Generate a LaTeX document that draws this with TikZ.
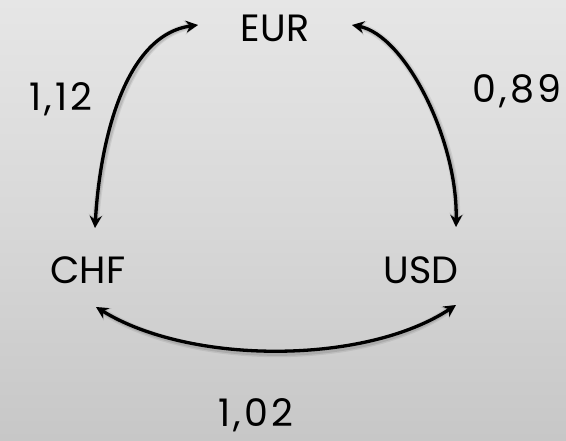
\documentclass[tikz,border=0pt]{standalone}
\usepackage{fontspec}
\setmainfont{Poppins}
\newfontfamily\ratefont{Poppins}[LetterSpace=8]
\usetikzlibrary{arrows.meta}
\definecolor{bgtop}{RGB}{230,230,230}
\definecolor{bgmid}{RGB}{216,216,216}
\definecolor{bgbot}{RGB}{199,199,199}
\tikzset{
  cur/.style={font=\fontsize{38}{40}\selectfont, anchor=base, inner sep=0pt},
  rate/.style={font=\ratefont\fontsize{38}{40}\selectfont, anchor=base, inner sep=0pt},
  link/.style={line width=3.3pt, {Stealth[length=12pt,width=12pt]}-{Stealth[length=12pt,width=12pt]}},
  shadowa/.style={line width=7pt, draw=black, opacity=0.07, {Stealth[length=14pt,width=15pt]}-{Stealth[length=14pt,width=15pt]}},
  shadowb/.style={line width=4.5pt, draw=black, opacity=0.10, {Stealth[length=13pt,width=13pt]}-{Stealth[length=13pt,width=13pt]}}
}
\begin{document}
\begin{tikzpicture}[x=1pt,y=1pt]
\useasboundingbox (0,0) rectangle (566,440);
\shade[top color=bgtop, bottom color=bgbot, middle color=bgmid] (0,0) rectangle (566,440);

\node[cur] (eur) at (275,398) {EUR};
\node[cur] (chf) at (88,156) {CHF};
\node[cur] (usd) at (421,156) {USD};
\node[rate] (r1) at (61,329) {1,12};
\node[rate] (r2) at (517,337) {0,89};
\node[rate] (r3) at (256,13) {1,02};

\coordinate (ec) at (198,415);
\coordinate (ce) at (95,212);
\coordinate (eu) at (352,415);
\coordinate (ue) at (456,213);
\coordinate (cu) at (96,133);
\coordinate (uc) at (456,135);

% shadows
\begin{scope}[shift={(2,-3)}]
\foreach \s in {shadowa,shadowb}{
\draw[\s] (ce) .. controls (100,300) and (125,405) .. (ec);
\draw[\s] (ue) .. controls (458,300) and (405,405) .. (eu);
\draw[\s] (cu) .. controls (190,75) and (365,75) .. (uc);
}
\end{scope}

\draw[link] (ce) .. controls (100,300) and (125,405) .. (ec);
\draw[link] (ue) .. controls (458,300) and (405,405) .. (eu);
\draw[link] (cu) .. controls (190,75) and (365,75) .. (uc);
\end{tikzpicture}
\end{document}
